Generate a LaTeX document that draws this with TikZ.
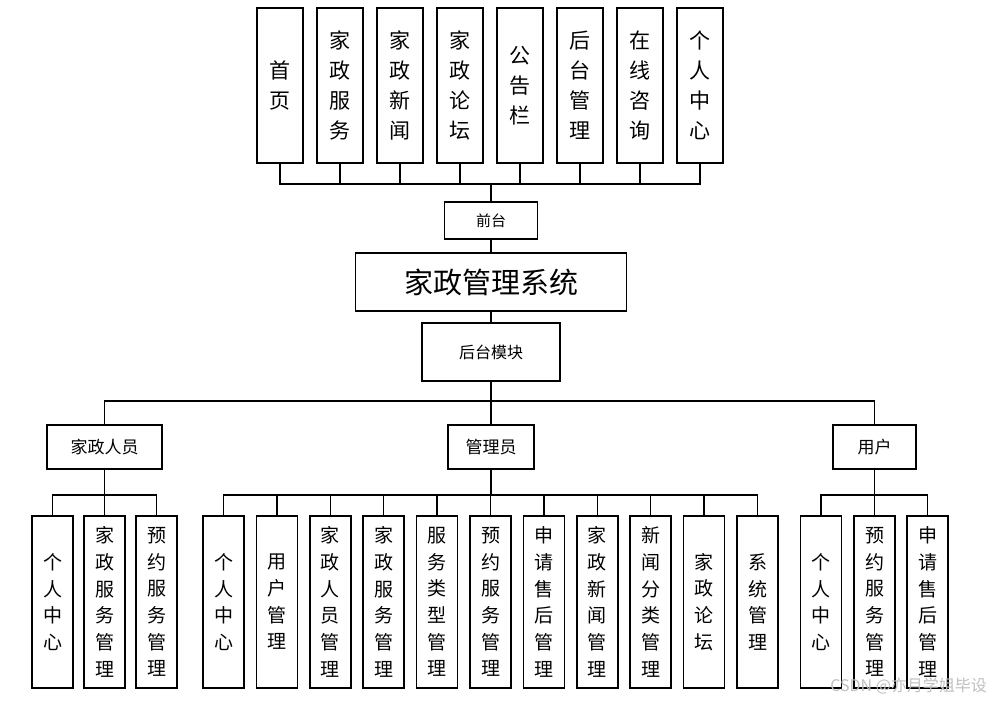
\documentclass[tikz,border=0pt]{standalone}
\usepackage{fontspec}
\setmainfont{Noto Sans CJK SC}
\usepackage{tikz}

\begin{document}
\begin{tikzpicture}[x=1pt,y=-1pt,line width=1.5pt,
    topbox/.style={draw,minimum width=46pt,minimum height=155pt,inner sep=0pt,align=center,
      font={\fontsize{21}{30}\selectfont}},
    leafbox/.style={draw,minimum width=41pt,minimum height=172pt,inner sep=0pt,align=center,
      font={\fontsize{19}{26.7}\selectfont}},
    midbox/.style={draw,minimum height=44pt,inner sep=0pt,font={\fontsize{17}{20}\selectfont}}]
       \useasboundingbox (0,0) rectangle (993,703);
       % front end
       \node[topbox] (t1) at (280,85.5) {首\\页};
       \node[topbox] (t2) at (340,85.5) {家\\政\\服\\务};
       \node[topbox] (t3) at (400,85.5) {家\\政\\新\\闻};
       \node[topbox] (t4) at (460,85.5) {家\\政\\论\\坛};
       \node[topbox] (t5) at (520,85.5) {公\\告\\栏};
       \node[topbox] (t6) at (580,85.5) {后\\台\\管\\理};
       \node[topbox] (t7) at (640,85.5) {在\\线\\咨\\询};
       \node[topbox] (t8) at (700,85.5) {个\\人\\中\\心};
       \node[draw,minimum width=93pt,minimum height=37pt,inner sep=0pt,
             font={\fontsize{15}{18}\selectfont}] (qt) at (491,220.5) {前台};
       \node[draw,minimum width=271pt,minimum height=58pt,inner sep=0pt,
             font={\fontsize{29}{34}\selectfont}] (sys) at (491,282) {家政管理系统};
       \node[draw,minimum width=138pt,minimum height=58pt,inner sep=0pt,
             font={\fontsize{16}{20}\selectfont}] (ht) at (491,352) {后台模块};
       % roles
       \node[midbox,minimum width=115pt] (jz) at (104.5,447) {家政人员};
       \node[midbox,minimum width=86pt] (gl) at (491,447) {管理员};
       \node[midbox,minimum width=83pt] (yh) at (874.5,447) {用户};
       % leaves
       \node[leafbox] (j1) at (52.5,602) {个\\人\\中\\心};
       \node[leafbox] (j2) at (104.5,602) {家\\政\\服\\务\\管\\理};
       \node[leafbox] (j3) at (156.5,602) {预\\约\\服\\务\\管\\理};
       \node[leafbox] (m1) at (223.5,602) {个\\人\\中\\心};
       \node[leafbox] (m2) at (276.9,602) {用\\户\\管\\理};
       \node[leafbox] (m3) at (330.3,602) {家\\政\\人\\员\\管\\理};
       \node[leafbox] (m4) at (383.7,602) {家\\政\\服\\务\\管\\理};
       \node[leafbox] (m5) at (437.1,602) {服\\务\\类\\型\\管\\理};
       \node[leafbox] (m6) at (490.5,602) {预\\约\\服\\务\\管\\理};
       \node[leafbox] (m7) at (543.9,602) {申\\请\\售\\后\\管\\理};
       \node[leafbox] (m8) at (597.3,602) {家\\政\\新\\闻\\管\\理};
       \node[leafbox] (m9) at (650.7,602) {新\\闻\\分\\类\\管\\理};
       \node[leafbox] (m10) at (704.1,602) {家\\政\\论\\坛};
       \node[leafbox] (m11) at (757.5,602) {系\\统\\管\\理};
       \node[leafbox] (u1) at (821,602) {个\\人\\中\\心};
       \node[leafbox] (u2) at (874.5,602) {预\\约\\服\\务\\管\\理};
       \node[leafbox] (u3) at (927.5,602) {申\\请\\售\\后\\管\\理};
       % buses
       \coordinate (qbus) at (491,184);
       \coordinate (hbus) at (491,401);
       \coordinate (jbus) at (104.5,495);
       \coordinate (gbus) at (491,495);
       \coordinate (ubus) at (874.5,495);
       \draw (qt.north) -- (qbus);
       \draw (t1.south) |- (qbus);
       \draw (t2.south) |- (qbus);
       \draw (t3.south) |- (qbus);
       \draw (t4.south) |- (qbus);
       \draw (t5.south) |- (qbus);
       \draw (t6.south) |- (qbus);
       \draw (t7.south) |- (qbus);
       \draw (t8.south) |- (qbus);
       \draw (qt.south) -- (sys.north);
       \draw (sys.south) -- (ht.north);
       \draw (ht.south) -- (hbus);
       \draw (jz.north) |- (hbus);
       \draw (gl.north) -- (hbus);
       \draw (yh.north) |- (hbus);
       \draw (jz.south) -- (jbus);
       \draw (j1.north) |- (jbus);
       \draw (j2.north) -- (jbus);
       \draw (j3.north) |- (jbus);
       \draw (gl.south) -- (gbus);
       \draw (m1.north) |- (gbus);
       \draw (m2.north) |- (gbus);
       \draw (m3.north) |- (gbus);
       \draw (m4.north) |- (gbus);
       \draw (m5.north) |- (gbus);
       \draw (m6.north) |- (gbus);
       \draw (m7.north) |- (gbus);
       \draw (m8.north) |- (gbus);
       \draw (m9.north) |- (gbus);
       \draw (m10.north) |- (gbus);
       \draw (m11.north) |- (gbus);
       \draw (yh.south) -- (ubus);
       \draw (u1.north) |- (ubus);
       \draw (u2.north) -- (ubus);
       \draw (u3.north) |- (ubus);
       % watermark
       \node[anchor=east,text=black!25,font={\fontsize{16}{18}\selectfont}] (wm) at (991,686) {CSDN @亦月学姐毕设};
      \end{tikzpicture}
\end{document}
